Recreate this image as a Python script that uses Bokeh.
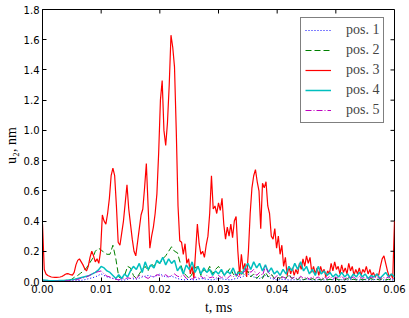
import numpy as np
from bokeh.plotting import figure
from bokeh.models import Range1d, FixedTicker, PrintfTickFormatter, Legend, LegendItem
from bokeh.embed import file_html
from bokeh.resources import INLINE

# ---- data ----
x_ticks = [0.00, 0.01, 0.02, 0.03, 0.04, 0.05, 0.06]
y_ticks = [0.0, 0.2, 0.4, 0.6, 0.8, 1.0, 1.2, 1.4, 1.6, 1.8]
labels = ["pos. 1", "pos. 2", "pos. 3", "pos. 4", "pos. 5"]

# pos. 3 sampled every 0.0003 ms
t3 = np.linspace(0.0, 0.06, 201)
pos3 = [
    0.38, 0.08, 0.05, 0.04, 0.035, 0.03, 0.028, 0.027, 0.027, 0.028,
    0.03, 0.033, 0.04, 0.048, 0.052, 0.05, 0.045, 0.042, 0.06, 0.11,
    0.14, 0.15, 0.13, 0.11, 0.085, 0.07, 0.1, 0.16, 0.2, 0.17,
    0.13, 0.15, 0.12, 0.2, 0.44, 0.4, 0.38, 0.45, 0.55, 0.7,
    0.75, 0.7, 0.5, 0.26, 0.24, 0.32, 0.4, 0.52, 0.64, 0.48,
    0.38, 0.28, 0.2, 0.17, 0.26, 0.35, 0.44, 0.48, 0.62, 0.78,
    0.5, 0.22, 0.3, 0.36, 0.45, 0.58, 0.85, 1.2, 1.33, 1.0,
    0.9, 1.05, 1.3, 1.63, 1.55, 1.42, 1.0, 0.5, 0.27, 0.26,
    0.18, 0.25, 0.12, 0.15, 0.05, 0.1, 0.02, 0.2, 0.38, 0.25,
    0.18, 0.2, 0.16, 0.24, 0.3, 0.45, 0.7, 0.48, 0.5, 0.45,
    0.52, 0.47, 0.55, 0.38, 0.28, 0.36, 0.3, 0.38, 0.29, 0.4,
    0.43, 0.2, 0.04, 0.18, 0.08, 0.12, 0.03, 0.2, 0.45, 0.62,
    0.7, 0.74, 0.66, 0.6, 0.35, 0.65, 0.62, 0.66, 0.5, 0.45,
    0.3, 0.28, 0.35, 0.22, 0.3, 0.18, 0.24, 0.1, 0.16, 0.04,
    0.1, 0.05, 0.09, 0.04, 0.08, 0.05, 0.12, 0.08, 0.15, 0.1,
    0.17, 0.12, 0.16, 0.06, 0.1, 0.05, 0.09, 0.04, 0.1, 0.06,
    0.08, 0.03, 0.07, 0.05, 0.12, 0.07, 0.13, 0.08, 0.1, 0.05,
    0.11, 0.06, 0.09, 0.05, 0.12, 0.07, 0.1, 0.04, 0.08, 0.05,
    0.09, 0.04, 0.08, 0.06, 0.1, 0.05, 0.08, 0.04, 0.06, 0.03,
    0.05, 0.04, 0.1, 0.15, 0.17, 0.12, 0.07, 0.03, 0.05, 0.02,
    0.4,
]

# pos. 2, 4, 5 sampled every 0.0005 ms
t_half = np.linspace(0.0, 0.06, 121)
pos2 = [
    0.003, 0.003, 0.003, 0.003, 0.004, 0.004, 0.005, 0.006, 0.008, 0.01,
    0.015, 0.03, 0.04, 0.055, 0.07, 0.09, 0.12, 0.15, 0.2, 0.22,
    0.21, 0.19, 0.18, 0.18, 0.24, 0.15, 0.03, 0.02, 0.04, 0.1,
    0.09, 0.04, 0.02, 0.05, 0.08, 0.1, 0.07, 0.12, 0.1, 0.13,
    0.12, 0.15, 0.17, 0.2, 0.23, 0.2, 0.19, 0.12, 0.06, 0.04,
    0.02, 0.05, 0.09, 0.1, 0.04, 0.08, 0.06, 0.1, 0.05, 0.08,
    0.1, 0.07, 0.04, 0.06, 0.09, 0.05, 0.03, 0.08, 0.06, 0.04,
    0.07, 0.03, 0.05, 0.02, 0.04, 0.02, 0.06, 0.03, 0.05, 0.02,
    0.03, 0.02, 0.04, 0.02, 0.05, 0.02, 0.03, 0.01, 0.03, 0.01,
    0.02, 0.01, 0.02, 0.01, 0.015, 0.01, 0.02, 0.01, 0.015, 0.01,
    0.02, 0.01, 0.015, 0.01, 0.02, 0.01, 0.015, 0.01, 0.02, 0.01,
    0.015, 0.01, 0.02, 0.01, 0.015, 0.01, 0.02, 0.01, 0.015, 0.01,
    0.01,
]
pos4 = [
    0.01, 0.008, 0.006, 0.005, 0.005, 0.005, 0.006, 0.007, 0.008, 0.01,
    0.012, 0.015, 0.02, 0.025, 0.03, 0.035, 0.04, 0.05, 0.06, 0.075,
    0.1, 0.09, 0.07, 0.06, 0.04, 0.02, 0.045, 0.02, 0.05, 0.03,
    0.07, 0.1, 0.08, 0.12, 0.06, 0.13, 0.08, 0.11, 0.09, 0.14,
    0.12, 0.16, 0.11, 0.15, 0.12, 0.14, 0.07, 0.1, 0.05, 0.11,
    0.08, 0.13, 0.06, 0.1, 0.05, 0.09, 0.06, 0.08, 0.04, 0.07,
    0.05, 0.08, 0.04, 0.07, 0.05, 0.09, 0.04, 0.06, 0.05, 0.09,
    0.12, 0.08, 0.13, 0.09, 0.12, 0.07, 0.11, 0.06, 0.09, 0.05,
    0.07, 0.04, 0.08, 0.05, 0.1, 0.07, 0.12, 0.08, 0.13, 0.07,
    0.1, 0.05, 0.08, 0.04, 0.1, 0.05, 0.07, 0.04, 0.06, 0.03,
    0.05, 0.03, 0.06, 0.03, 0.05, 0.02, 0.05, 0.03, 0.06, 0.03,
    0.05, 0.02, 0.04, 0.03, 0.05, 0.02, 0.04, 0.06, 0.03, 0.05,
    0.03,
]
pos5 = [
    0.001, 0.001, 0.001, 0.001, 0.001, 0.002, 0.002, 0.003, 0.004, 0.005,
    0.007, 0.01, 0.013, 0.02, 0.025, 0.03, 0.04, 0.05, 0.06, 0.065,
    0.07, 0.05, 0.035, 0.03, 0.02, 0.015, 0.01, 0.02, 0.015, 0.025,
    0.02, 0.03, 0.02, 0.04, 0.035, 0.03, 0.02, 0.035, 0.03, 0.045,
    0.04, 0.035, 0.045, 0.03, 0.04, 0.05, 0.035, 0.03, 0.045, 0.02,
    0.03, 0.015, 0.03, 0.02, 0.035, 0.02, 0.04, 0.025, 0.03, 0.02,
    0.04, 0.025, 0.035, 0.02, 0.04, 0.03, 0.05, 0.03, 0.05, 0.07,
    0.09, 0.06, 0.08, 0.04, 0.06, 0.04, 0.1, 0.06, 0.04, 0.02,
    0.04, 0.02, 0.03, 0.02, 0.04, 0.02, 0.03, 0.015, 0.035, 0.02,
    0.03, 0.015, 0.035, 0.02, 0.03, 0.015, 0.03, 0.02, 0.035, 0.015,
    0.03, 0.02, 0.035, 0.015, 0.03, 0.02, 0.03, 0.015, 0.035, 0.02,
    0.03, 0.015, 0.03, 0.02, 0.035, 0.015, 0.03, 0.02, 0.03, 0.015,
    0.02,
]

# pos. 1 sampled every 0.001 ms
t1 = np.linspace(0.0, 0.06, 61)
pos1 = [
    0.001, 0.001, 0.001, 0.001, 0.002, 0.003, 0.005, 0.01, 0.02, 0.03,
    0.05, 0.03, 0.02, 0.01, 0.01, 0.02, 0.015, 0.03, 0.04, 0.03,
    0.05, 0.03, 0.035, 0.02, 0.01, 0.015, 0.01, 0.02, 0.015, 0.01,
    0.02, 0.015, 0.01, 0.02, 0.03, 0.05, 0.03, 0.02, 0.04, 0.02,
    0.01, 0.015, 0.01, 0.012, 0.01, 0.015, 0.01, 0.012, 0.01, 0.015,
    0.01, 0.012, 0.01, 0.015, 0.01, 0.012, 0.01, 0.015, 0.01, 0.012,
    0.01,
]

# ---- figure ----
p = figure(frame_width=352, frame_height=272,
           x_range=Range1d(0.0, 0.06), y_range=Range1d(0.0, 1.8),
           output_backend="svg", toolbar_location=None,
           min_border_left=0, min_border_right=12, min_border_top=9, min_border_bottom=0)
p.xgrid.visible = False
p.ygrid.visible = False
p.outline_line_color = "black"
p.outline_line_width = 1
p.background_fill_color = "white"
p.border_fill_color = "white"

r1 = p.line(t1, pos1, line_color="#0000ff", line_width=1, line_dash="1 2")
r2 = p.line(t_half, pos2, line_color="#008000", line_width=1, line_dash="6 3")
r3 = p.line(t3, pos3, line_color="#ff0000", line_width=1.2)
r4 = p.line(t_half, pos4, line_color="#00bfbf", line_width=1.5)
r5 = p.line(t_half, pos5, line_color="#bf00bf", line_width=1, line_dash="6 2 1 2")

# inward tick marks on the top and right edges (fixed 4px long)
p.ray(x=x_ticks, y=[y_ticks[-1]] * len(x_ticks), length=4, length_units="screen",
      angle=-np.pi / 2, line_color="black", line_width=1)
p.ray(x=[x_ticks[-1]] * len(y_ticks), y=y_ticks, length=4, length_units="screen",
      angle=np.pi, line_color="black", line_width=1)

def style_axis(ax):
    ax.major_tick_in = 4
    ax.major_tick_out = 0
    ax.minor_tick_in = 0
    ax.minor_tick_out = 0
    ax.axis_line_color = "black"
    ax.major_tick_line_color = "black"
    ax.major_label_text_font = "DejaVu Sans"
    ax.major_label_text_font_size = "10px"
    ax.major_label_text_color = "black"
    ax.axis_label_text_font = "Liberation Serif"
    ax.axis_label_text_font_size = "14px"
    ax.axis_label_text_font_style = "normal"
    ax.axis_label_text_color = "black"

xa = p.xaxis[0]
ya = p.yaxis[0]
style_axis(xa)
style_axis(ya)
xa.ticker = FixedTicker(ticks=x_ticks)
ya.ticker = FixedTicker(ticks=y_ticks)
xa.formatter = PrintfTickFormatter(format="%.2f")
ya.formatter = PrintfTickFormatter(format="%.1f")
xa.axis_label = "t, ms"
ya.axis_label = "u\u2082, nm"
xa.major_label_standoff = 3
ya.major_label_standoff = 3
xa.axis_label_standoff = 4
ya.axis_label_standoff = 2

legend = Legend(items=[LegendItem(label=l, renderers=[r]) for l, r in zip(labels, [r1, r2, r3, r4, r5])],
                location=(258, 158),
                label_text_font="Liberation Serif", label_text_font_size="14px",
                glyph_width=26, glyph_height=16, label_height=16,
                spacing=4, padding=4, margin=0, label_standoff=15,
                border_line_color="black", border_line_width=1,
                background_fill_color="white", background_fill_alpha=1)
p.add_layout(legend)

open("out.html", "w").write(file_html(p, INLINE))
